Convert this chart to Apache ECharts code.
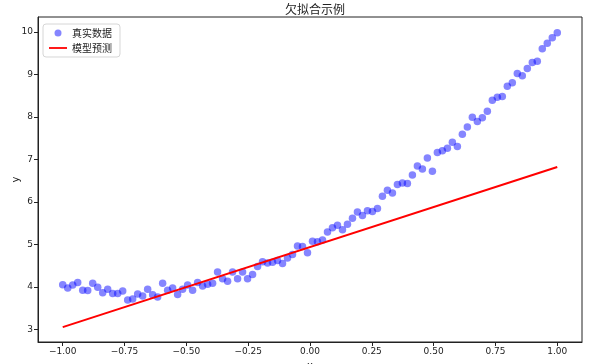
<!DOCTYPE html>
<html>
<head>
<meta charset="utf-8">
<script src="https://cdn.jsdelivr.net/npm/echarts@6/dist/echarts.min.js"></script>
<style>html,body{margin:0;padding:0;background:#fff}#c{width:600px;height:364px}</style>
</head>
<body>
<div id="c"></div>
<script>
const titleText = '欠拟合示例';
const seriesNames = ['真实数据', '模型预测'];
const xTicks = [-1, -0.75, -0.5, -0.25, 0, 0.25, 0.5, 0.75, 1];
const yTicks = [3, 4, 5, 6, 7, 8, 9, 10];
const pointCount = 100;
const yData = [
  4.05, 3.97, 4.04, 4.10, 3.92, 3.91, 4.08, 3.99, 3.86, 3.94,
  3.84, 3.84, 3.90, 3.69, 3.71, 3.83, 3.78, 3.94, 3.81, 3.76,
  4.08, 3.92, 3.97, 3.82, 3.94, 4.04, 3.92, 4.10, 4.02, 4.06,
  4.08, 4.35, 4.19, 4.13, 4.35, 4.19, 4.35, 4.19, 4.29, 4.48,
  4.59, 4.56, 4.58, 4.62, 4.55, 4.68, 4.76, 4.96, 4.95, 4.80,
  5.07, 5.06, 5.10, 5.29, 5.39, 5.45, 5.34, 5.47, 5.61, 5.76,
  5.68, 5.79, 5.77, 5.84, 6.13, 6.27, 6.21, 6.41, 6.44, 6.43,
  6.63, 6.84, 6.77, 7.03, 6.72, 7.16, 7.20, 7.26, 7.40, 7.30,
  7.59, 7.76, 7.99, 7.89, 7.98, 8.13, 8.39, 8.46, 8.48, 8.72,
  8.80, 9.02, 8.97, 9.14, 9.28, 9.31, 9.60, 9.73, 9.86, 9.98
];
const lineX = [-1, 1];
const lineY = [3.05, 6.82];

const xData = yData.map((_, i) => -1 + 2 * i / (pointCount - 1));
const scatterData = xData.map((x, i) => [x, yData[i]]);
const lineData = lineX.map((x, i) => [x, lineY[i]]);

const fontFam = '"DejaVu Sans", "Noto Sans CJK SC", sans-serif';
const cjkFam = '"Noto Sans CJK SC", sans-serif';
const minus = v => String(v).replace('-', '\u2212');

const chart = echarts.init(document.getElementById('c'), null, {renderer: 'canvas'});
chart.setOption({
  animation: false,
  backgroundColor: '#fff',
  title: {
    text: titleText, left: 310, top: -2, textAlign: 'center',
    textStyle: {fontFamily: cjkFam, fontSize: 12, fontWeight: 'normal', color: '#222'}
  },
  legend: {
    orient: 'vertical', left: 43, top: 24,
    backgroundColor: '#fff', borderColor: '#d6d6d6', borderWidth: 1, borderRadius: 3,
    padding: [4, 8, 4, 6], itemGap: 5, itemWidth: 18, itemHeight: 7,
    textStyle: {fontFamily: cjkFam, fontSize: 10, color: '#222'},
    data: [
      {name: seriesNames[0], icon: 'circle'},
      {name: seriesNames[1], icon: 'path://M0,0 L20,0 L20,2 L0,2 Z'}
    ]
  },
  grid: {
    left: 38, right: 18, top: 17, bottom: 22,
    outerBoundsMode: 'none', containLabel: false,
    show: true, borderColor: '#222', borderWidth: 1
  },
  xAxis: {
    type: 'value', min: -1.1, max: 1.1,
    name: 'x', nameLocation: 'middle', nameGap: 19, nameMoveOverlap: false,
    nameTextStyle: {fontFamily: fontFam, fontSize: 10, color: '#222'},
    splitLine: {show: false},
    axisLine: {show: true, onZero: false, lineStyle: {color: '#222', width: 1}},
    axisTick: {show: true, length: 4, lineStyle: {color: '#222'}, customValues: xTicks},
    axisLabel: {
      margin: 5, fontFamily: fontFam, fontSize: 9, color: '#222',
      customValues: xTicks, formatter: v => minus(v.toFixed(2))
    }
  },
  yAxis: {
    type: 'value', min: 2.7, max: 10.35,
    name: 'y', nameLocation: 'middle', nameGap: 17, nameMoveOverlap: false,
    nameTextStyle: {fontFamily: fontFam, fontSize: 10, color: '#222'},
    splitLine: {show: false},
    axisLine: {show: true, onZero: false, lineStyle: {color: '#222', width: 1}},
    axisTick: {show: true, length: 4, lineStyle: {color: '#222'}, customValues: yTicks},
    axisLabel: {
      margin: 5, fontFamily: fontFam, fontSize: 9, color: '#222',
      customValues: yTicks, formatter: v => String(v)
    }
  },
  series: [
    {
      name: seriesNames[0], type: 'scatter', data: scatterData,
      symbol: 'circle', symbolSize: 7.5,
      itemStyle: {color: 'rgba(0,0,255,0.6)'}, z: 2
    },
    {
      name: seriesNames[1], type: 'line', data: lineData,
      showSymbol: false, symbol: 'none',
      lineStyle: {color: '#ff0000', width: 2}, itemStyle: {color: '#ff0000'}, z: 3
    }
  ]
});
</script>
</body>
</html>
